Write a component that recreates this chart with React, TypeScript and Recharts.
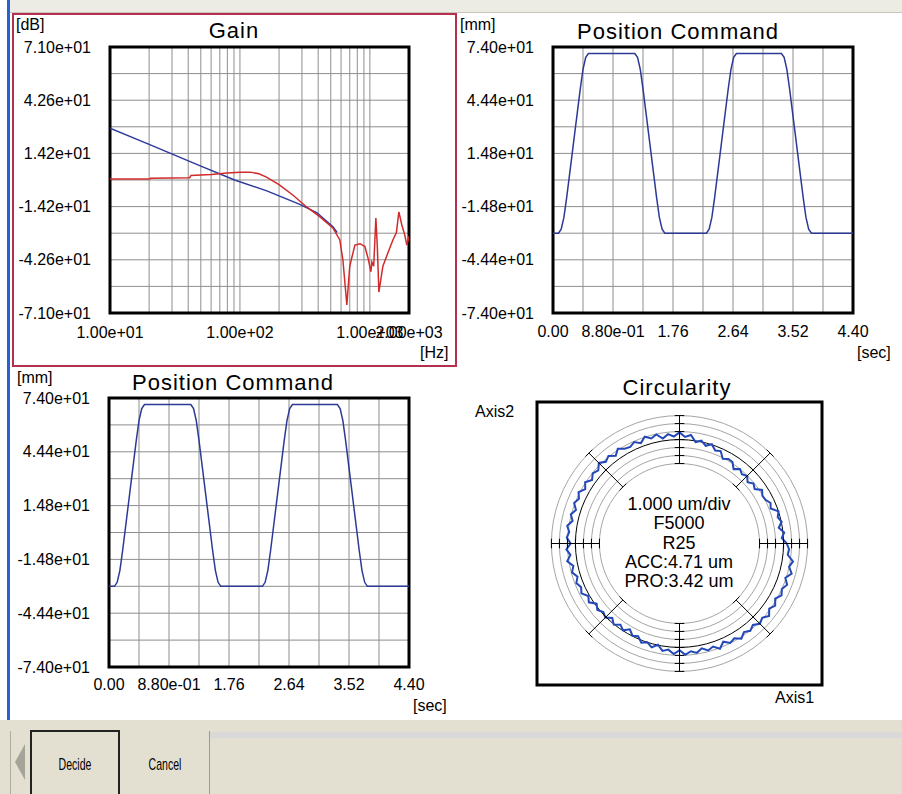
import React from 'react';
import { LineChart, Line, XAxis, YAxis, CartesianGrid, ReferenceArea } from 'recharts';

const FONT = '"Liberation Sans", Arial, sans-serif';

// ---- Gain (Bode magnitude) ----
const GAIN_X_TICKS = [10, 20, 30, 40, 50, 60, 70, 80, 90, 100, 200, 300, 400, 500, 600, 700, 800, 900, 1000, 2000];
const GAIN_X_LABELS = ['1.00e+01', '', '', '', '', '', '', '', '', '1.00e+02', '', '', '', '', '', '', '', '', '1.00e+03', '2.00e+03'];
const GAIN_Y_TICKS = [-71, -56.8, -42.6, -28.4, -14.2, 0, 14.2, 28.4, 42.6, 56.8, 71];
const GAIN_Y_LABELS = ['-7.10e+01', '', '-4.26e+01', '', '-1.42e+01', '', '1.42e+01', '', '4.26e+01', '', '7.10e+01'];

const MODEL_HZ = [10, 20, 49, 91, 161, 289, 392, 519, 560];
const MODEL_DB = [27.6, 19.0, 7.7, 0.0, -5.8, -13.0, -17.5, -25.0, -28.0];

const MEAS_HZ = [10, 20.3, 20.5, 41, 42, 60, 80, 100, 120, 140, 160, 200, 255, 326, 413, 519, 587, 620, 665, 700, 767, 840, 915, 970, 1018, 1036, 1070, 1112, 1140, 1173, 1259, 1375, 1503, 1600, 1671, 1762, 1850, 1926, 2000];
const MEAS_DB = [0.5, 0.5, 1.0, 1.2, 2.4, 3.0, 3.7, 4.1, 4.2, 3.3, 1.5, -2.5, -8.0, -14.4, -19.7, -25.6, -32.0, -42.7, -66.7, -46.0, -34.7, -34.0, -35.5, -42.0, -49.0, -43.8, -46.0, -20.3, -35.0, -59.8, -46.0, -39.0, -32.0, -28.0, -17.0, -24.0, -29.0, -34.7, -30.0];

// ---- Position command ----
const POS_X_TICKS = [0, 0.44, 0.88, 1.32, 1.76, 2.2, 2.64, 3.08, 3.52, 3.96, 4.4];
const POS_X_LABELS = ['0.00', '', '8.80e-01', '', '1.76', '', '2.64', '', '3.52', '', '4.40'];
const POS_Y_TICKS = [-74, -59.2, -44.4, -29.6, -14.8, 0, 14.8, 29.6, 44.4, 59.2, 74];
const POS_Y_LABELS = ['-7.40e+01', '', '-4.44e+01', '', '-1.48e+01', '', '1.48e+01', '', '4.44e+01', '', '7.40e+01'];

const POS_T = [0, 0.08, 0.12, 0.16, 0.2, 0.24, 0.28, 0.32, 0.36, 0.4, 0.44, 0.48, 0.52,
  1.2, 1.24, 1.28, 1.32, 1.36, 1.4, 1.44, 1.48, 1.52, 1.56, 1.6, 1.64,
  2.25, 2.29, 2.33, 2.37, 2.41, 2.45, 2.49, 2.53, 2.57, 2.61, 2.65, 2.69,
  3.35, 3.39, 3.43, 3.47, 3.51, 3.55, 3.59, 3.63, 3.67, 3.71, 3.75, 3.79, 4.4];
const POS_MM = [-29.6, -29.6, -27.4, -20.8, -9.9, 2.2, 14.3, 26.5, 38.6, 50.7, 61.6, 68.2, 70.4,
  70.4, 68.2, 61.6, 50.7, 38.6, 26.5, 14.3, 2.2, -9.9, -20.8, -27.4, -29.6,
  -29.6, -27.4, -20.8, -9.9, 2.2, 14.3, 26.5, 38.6, 50.7, 61.6, 68.2, 70.4,
  70.4, 68.2, 61.6, 50.7, 38.6, 26.5, 14.3, 2.2, -9.9, -20.8, -27.4, -29.6, -29.6];

// ---- Circularity (div units, 1 div = 1 um) ----
const CIRC_NOMINAL = 13;
const RING_RADII = [10, 11, 12, 13, 14, 15, 16];
const DIAG_TICK_RADII = [10, 13, 16];
const CIRC_STEP_DEG = 3;
// measured radius deviation from nominal, every 3 degrees starting at Axis1+
const CIRC_DEV = [
  0.4, -0.2, 0.15, -0.45, 0.05, -0.3, 0.0, -0.8, -0.55, -0.95,
  -1.05, -0.7, -1.4, -1.1, -1.55, -1.05, -1.35, -1.0, -1.5, -0.85,
  -0.8, -1.1, -0.35, -0.55, 0.05, -0.35, 0.15, -0.15, 0.65, 0.35,
  0.9, 0.4, 0.75, 0.3, 0.95, 0.6, 1.05, 0.45, 0.9, 0.55,
  0.7, 1.15, 0.55, 1.1, 0.75, 1.25, 0.65, 0.95, 0.5, 1.05,
  0.6, 1.15, 0.75, 1.1, 0.6, 1.05, 0.65, 1.2, 0.85, 1.1,
  0.6, 1.15, 0.7, 1.2, 0.55, 0.9, 0.4, 0.8, 0.45, 0.75,
  0.15, 0.5, -0.2, 0.2, -0.2, 0.1, -0.45, 0.05, -0.45, -0.05,
  -0.6, -0.05, -0.3, 0.3, 0.0, 0.45, -0.05, 0.6, 0.35, 0.85,
  0.35, 0.95, 0.55, 0.85, 0.4, 0.85, 0.55, 1.1, 0.45, 0.95,
  0.7, 1.2, 0.7, 1.05, 0.7, 1.2, 0.9, 1.4, 0.85, 1.25,
  0.8, 1.3, 1.0, 1.4, 0.9, 1.5, 1.0, 1.35, 0.6, 0.7,
];
const CIRC_TEXT = ['1.000 um/div', 'F5000', 'R25', 'ACC:4.71 um', 'PRO:3.42 um'];

const rad = (deg: number) => (deg * Math.PI) / 180;
const polar = (r: number, deg: number) => ({ x: r * Math.cos(rad(deg)), y: r * Math.sin(rad(deg)) });

const gainModel = MODEL_HZ.map((f, i) => ({ f, db: MODEL_DB[i] }));
const gainMeas = MEAS_HZ.map((f, i) => ({ f, db: MEAS_DB[i] }));
const posData = POS_T.map((t, i) => ({ t, mm: POS_MM[i] }));

const ringAngles = Array.from({ length: 73 }, (_, i) => i * 5);
const rings = RING_RADII.map((r) => ringAngles.map((a) => polar(r, a)));

const trace = CIRC_DEV.map((d, i) => polar(CIRC_NOMINAL + d, i * CIRC_STEP_DEG));
trace.push(trace[0]);

const GAP = { x: 0, y: null as any };
const arms: any[] = [];
const addArm = (deg: number, tickRadii: number[]) => {
  arms.push(polar(RING_RADII[0], deg), polar(RING_RADII[RING_RADII.length - 1], deg), GAP);
  tickRadii.forEach((r) => {
    const c = polar(r, deg);
    const px = -Math.sin(rad(deg)) * 0.6;
    const py = Math.cos(rad(deg)) * 0.6;
    arms.push({ x: c.x - px, y: c.y - py }, { x: c.x + px, y: c.y + py }, GAP);
  });
};
[0, 90, 180, 270].forEach((d) => addArm(d, RING_RADII));
[45, 135, 225, 315].forEach((d) => addArm(d, DIAG_TICK_RADII));

const tickStyle = { fill: '#000', fontSize: 16, fontFamily: FONT };
const labelOf = (ticks: number[], labels: string[]) => (v: number) => labels[ticks.indexOf(v)] ?? '';

const abs = (left: number, top: number, extra: React.CSSProperties = {}): React.CSSProperties => ({
  position: 'absolute', left, top, ...extra,
});
const titleStyle = (cx: number, cy: number): React.CSSProperties => ({
  position: 'absolute', left: cx - 150, top: cy - 13, width: 300, textAlign: 'center',
  fontSize: 22, letterSpacing: 1, fontFamily: FONT, lineHeight: '26px', color: '#000',
});
const unitStyle = (left: number, top: number): React.CSSProperties => ({
  position: 'absolute', left, top, fontSize: 16, fontFamily: FONT, lineHeight: '16px', color: '#000',
});

const PositionChart: React.FC<{ left: number; top: number; width: number; height: number; yWidth: number; mTop: number; mRight: number; mBottom: number; xMargin: number }> = (p) => (
  <div style={abs(p.left, p.top)}>
    <LineChart width={p.width} height={p.height} data={posData} margin={{ top: p.mTop, right: p.mRight, bottom: p.mBottom, left: 0 }}>
      <CartesianGrid stroke="#8e8e8e" strokeWidth={1} />
      <XAxis dataKey="t" type="number" domain={[0, 4.4]} ticks={POS_X_TICKS} interval={0} tickFormatter={labelOf(POS_X_TICKS, POS_X_LABELS)}
        tick={tickStyle} tickLine={false} axisLine={false} tickSize={0} tickMargin={p.xMargin} height={40} />
      <YAxis type="number" domain={[-74, 74]} ticks={POS_Y_TICKS} interval={0} tickFormatter={labelOf(POS_Y_TICKS, POS_Y_LABELS)}
        tick={tickStyle} tickLine={false} axisLine={false} tickSize={0} tickMargin={19} width={p.yWidth} />
      <ReferenceArea x1={0} x2={4.4} y1={-74} y2={74} fill="none" stroke="#000" strokeWidth={3} />
      <Line dataKey="mm" type="linear" stroke="#2c3a96" strokeWidth={1.5} dot={false} isAnimationActive={false} />
    </LineChart>
  </div>
);

export default function App() {
  return (
    <div style={{ position: 'absolute', left: 0, top: 0, width: 902, height: 794, background: '#fff', overflow: 'hidden', fontFamily: FONT }}>
      {/* window chrome */}
      <div style={abs(10, 0, { width: 892, height: 12, background: '#ecebe4', borderBottom: '1px solid #c8c6bc' })} />
      <div style={abs(7, 0, { width: 3, height: 721, background: '#2a62d2' })} />

      {/* Gain */}
      <div style={abs(12, 13, { width: 445, height: 354, border: '2px solid #b3304e', boxSizing: 'border-box' })} />
      <div style={abs(0, 0)}>
        <LineChart width={460} height={370} margin={{ top: 47, right: 51, bottom: 17, left: 0 }}>
          <CartesianGrid stroke="#8e8e8e" strokeWidth={1} />
          <XAxis dataKey="f" type="number" scale="log" domain={[10, 2000]} allowDataOverflow ticks={GAIN_X_TICKS} interval={0}
            tickFormatter={labelOf(GAIN_X_TICKS, GAIN_X_LABELS)} tick={tickStyle} tickLine={false} axisLine={false} tickSize={0} tickMargin={14} height={40} />
          <YAxis type="number" domain={[-71, 71]} ticks={GAIN_Y_TICKS} interval={0} tickFormatter={labelOf(GAIN_Y_TICKS, GAIN_Y_LABELS)}
            tick={tickStyle} tickLine={false} axisLine={false} tickSize={0} tickMargin={19} width={110} />
          <ReferenceArea x1={10} x2={2000} y1={-71} y2={71} fill="none" stroke="#000" strokeWidth={3} />
          <Line data={gainModel} dataKey="db" type="linear" stroke="#2b3a9c" strokeWidth={1.5} dot={false} isAnimationActive={false} />
          <Line data={gainMeas} dataKey="db" type="linear" stroke="#d22a2a" strokeWidth={1.5} dot={false} isAnimationActive={false} />
        </LineChart>
      </div>
      <div style={titleStyle(234, 31)}>Gain</div>
      <div style={unitStyle(16, 17)}>[dB]</div>
      <div style={unitStyle(420, 345)}>[Hz]</div>

      {/* Position Command (top right) */}
      <PositionChart left={455} top={0} width={447} height={370} yWidth={98} mTop={47} mRight={49} mBottom={17} xMargin={13} />
      <div style={titleStyle(678, 32)}>Position Command</div>
      <div style={unitStyle(460, 17)}>[mm]</div>
      <div style={unitStyle(857, 345)}>[sec]</div>

      {/* Position Command (bottom left) */}
      <PositionChart left={0} top={365} width={460} height={360} yWidth={109} mTop={33} mRight={51} mBottom={18} xMargin={12} />
      <div style={titleStyle(233, 383)}>Position Command</div>
      <div style={unitStyle(17, 370)}>[mm]</div>
      <div style={unitStyle(413, 698)}>[sec]</div>

      {/* Circularity */}
      <div style={abs(460, 370)}>
        <LineChart width={442} height={340} margin={{ top: 32, right: 80, bottom: 25, left: 77 }}>
          <XAxis dataKey="x" type="number" domain={[-17.8, 17.8]} hide allowDataOverflow />
          <YAxis dataKey="y" type="number" domain={[-17.7, 17.7]} hide allowDataOverflow />
          {rings.map((pts, i) => (
            <Line key={`ring-${i}`} data={pts} dataKey="y" type="linear" dot={false} isAnimationActive={false}
              stroke={RING_RADII[i] === CIRC_NOMINAL ? '#000' : '#a5a5a5'} strokeWidth={1} />
          ))}
          <Line data={trace} dataKey="y" type="linear" stroke="#2348b8" strokeWidth={2} dot={false} isAnimationActive={false} />
          <Line data={arms} dataKey="y" type="linear" stroke="#000" strokeWidth={1} dot={false} connectNulls={false} isAnimationActive={false} />
          <ReferenceArea x1={-17.8} x2={17.8} y1={-17.7} y2={17.7} fill="none" stroke="#000" strokeWidth={3} />
        </LineChart>
      </div>
      <div style={titleStyle(677, 388)}>Circularity</div>
      <div style={unitStyle(475, 404)}>Axis2</div>
      <div style={unitStyle(775, 690)}>Axis1</div>
      <div style={abs(579, 495, { width: 200, textAlign: 'center', fontSize: 18, lineHeight: '19.3px', color: '#000' })}>
        {CIRC_TEXT.map((s) => <div key={s}>{s}</div>)}
      </div>

      {/* button bar */}
      <div style={abs(0, 720, { width: 902, height: 74, background: '#e4e0d1' })} />
      <div style={abs(10, 731, { width: 1, height: 63, background: '#b0ac9f' })} />
      <div style={abs(210, 732, { width: 692, height: 6, background: '#d9d9d9' })} />
      <div style={abs(15, 744, { width: 0, height: 0, borderTop: '18px solid transparent', borderBottom: '18px solid transparent', borderRight: '10px solid #a6a398' })} />
      <div style={abs(30, 730, { width: 90, height: 70, borderLeft: '2px solid #222', borderTop: '2px solid #222', borderRight: '2px solid #222', boxSizing: 'border-box' })} />
      <div style={abs(209, 731, { width: 1, height: 63, background: '#9a9a9a' })} />
      <div style={abs(30, 756, { width: 90, textAlign: 'center', fontSize: 17, lineHeight: '18px', transform: 'scaleX(0.62)', color: '#000' })}>Decide</div>
      <div style={abs(120, 756, { width: 90, textAlign: 'center', fontSize: 17, lineHeight: '18px', transform: 'scaleX(0.62)', color: '#000' })}>Cancel</div>
    </div>
  );
}
